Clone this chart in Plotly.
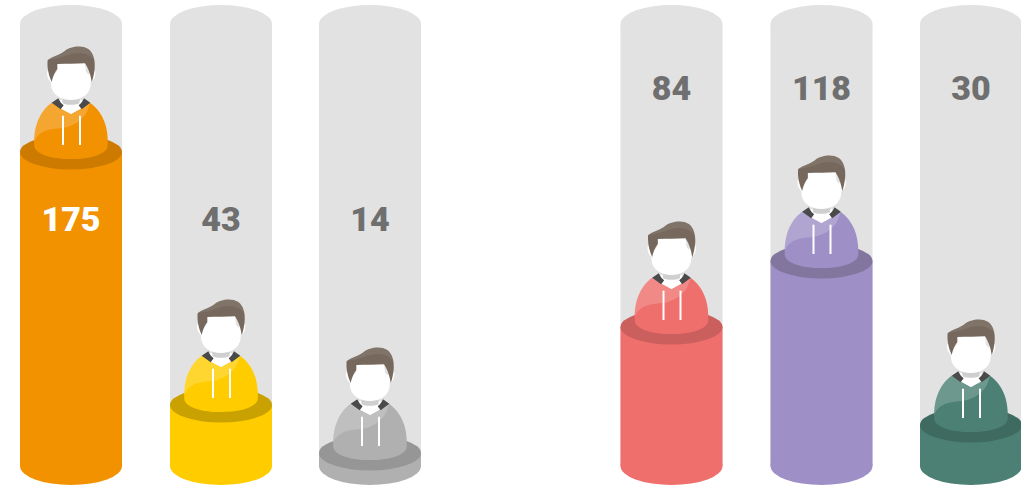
import plotly.graph_objects as go

# ---- data ----
labels = ["175", "43", "14", "84", "118", "30"]
centers = [71, 221, 370, 671.5, 821.5, 971]
levels = [334, 81, 33, 159, 225, 61]          # height of each filled cylinder's top, in chart units
label_levels = [263.5, 263.5, 263.5, 394.5, 394.5, 394.5]
label_colors = ["#ffffff", "#6f6f6f", "#6f6f6f", "#6f6f6f", "#6f6f6f", "#6f6f6f"]
fills = ["#f39200", "#ffcc00", "#b0b0b0", "#ee6f6c", "#9e90c6", "#4c8074"]
caps = ["#cc7a00", "#c9a100", "#969696", "#cb5f5e", "#82769f", "#3f6a60"]
track_top = 462
base = 20
half_w = 51
cap_ry = 17.5
end_ry = 19

# Person pictogram, in icon units: 3 units = 1 chart unit, origin (183, 456), y downwards
ICON = [
    # hoodie
    ("fill", "M73 440C70 390 82 340 125 308L183 342L240 308C284 340 296 390 293 440C286 465 236 477 183 477C130 477 80 465 73 440Z"),
    # hoodie highlight
    ("rgba(255,255,255,0.19)", "M73 425C71 385 82 340 125 308L183 342L240 308C232 345 215 365 170 382C130 388 90 385 73 425Z"),
    # shirt
    ("#ffffff", "M150 300L215 300L215 325L183 342L150 325Z"),
    ("#cfcfcf", "M156 298L210 298L208 310C195 316 170 316 158 310Z"),
    # collar
    ("#4a4a4a", "M125 308L145 295C149 305 155 312 161 316L152 328Z"),
    ("#4a4a4a", "M241 308L222 295C218 305 212 312 206 316L215 328Z"),
    # ears
    ("#ffffff", "M112 212C109 225 113 238 125 248L132 222Z"),
    ("#ffffff", "M255 212C258 225 254 238 242 248L235 222Z"),
    # face
    ("#ffffff", "M142 190L225 188L228 215C240 225 243 245 242 255C240 285 210 300 183 300C155 300 125 285 123 255C122 245 128 225 140 215Z"),
    # hair
    ("#76685c", "M113 180C125 170 150 165 165 152C180 140 215 133 235 147C250 158 256 180 254 205C252 225 248 240 245 247C243 230 238 210 225 190C200 192 170 190 142 192L142 208C135 215 128 232 125 246C118 230 110 205 113 180Z"),
    ("rgba(255,255,255,0.08)", "M165 152C180 140 215 133 235 147C245 154 251 167 253 182C240 160 205 150 165 168C150 174 130 178 113 180C125 170 150 165 165 152Z"),
    # hood strings
    ("#ffffff", "M156 347L162 347L162 435L156 435Z"),
    ("#ffffff", "M207 347L213 347L213 435L207 435Z"),
]


def place_icon(path, cx, level):
    out, nums = [], []
    token = ""
    for ch in path + " ":
        if ch.isalpha() or ch == " ":
            if token:
                nums.append(float(token))
                token = ""
            if ch.isalpha():
                out.append(ch)
                out.append(len(nums))
        else:
            token += ch
    res = []
    idx = [i for i, t in enumerate(out) if isinstance(t, str)]
    for k, i in enumerate(idx):
        start = out[i + 1]
        end = out[idx[k + 1] + 1] if k + 1 < len(idx) else len(nums)
        seg = nums[start:end]
        pts = []
        for j in range(0, len(seg), 2):
            pts.append(f"{cx + (seg[j] - 183) / 3:.2f},{level + (456 - seg[j + 1]) / 3:.2f}")
        res.append(out[i] + " ".join(pts))
    return " ".join(res)


fig = go.Figure()
fig.add_bar(x=centers, y=[track_top - base] * 6, base=base, width=half_w * 2,
            marker=dict(color="#e2e2e2", line_width=0), hoverinfo="skip")
fig.add_bar(x=centers, y=[v - base for v in levels], base=base, width=half_w * 2,
            marker=dict(color=fills, line_width=0), hoverinfo="skip")

shapes = []
for cx, lv, fc, cc in zip(centers, levels, fills, caps):
    x0, x1 = cx - half_w, cx + half_w
    shapes.append(dict(type="circle", x0=x0, x1=x1, y0=track_top - end_ry, y1=track_top + end_ry,
                       fillcolor="#e2e2e2", line_width=0))
    shapes.append(dict(type="circle", x0=x0, x1=x1, y0=base - end_ry, y1=base + end_ry,
                       fillcolor=fc, line_width=0))
    shapes.append(dict(type="circle", x0=x0, x1=x1, y0=lv - cap_ry, y1=lv + cap_ry,
                       fillcolor=cc, line_width=0))
    for col, p in ICON:
        shapes.append(dict(type="path", path=place_icon(p, cx, lv),
                           fillcolor=fc if col == "fill" else col, line_width=0))

fig.add_scatter(x=centers, y=label_levels, mode="text", text=labels,
                textposition="middle center",
                textfont=dict(family="Roboto", size=34, color=label_colors, weight=900),
                hoverinfo="skip")

fig.update_layout(
    width=1021, height=486, margin=dict(l=0, r=0, t=0, b=0),
    paper_bgcolor="#ffffff", plot_bgcolor="#ffffff", showlegend=False,
    barmode="overlay", shapes=shapes,
    xaxis=dict(range=[0, 1021], visible=False, fixedrange=True),
    yaxis=dict(range=[0, 486], visible=False, fixedrange=True),
)
fig.write_html("out.html", config={"displayModeBar": False},
               post_script="document.body.style.margin='0';document.body.style.overflow='hidden';")
